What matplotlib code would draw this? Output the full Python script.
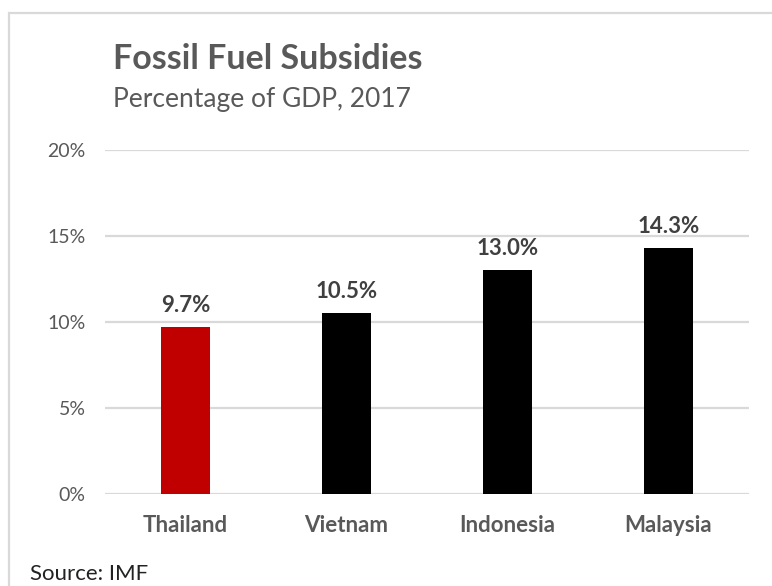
import matplotlib
matplotlib.use("Agg")
import matplotlib.pyplot as plt
from matplotlib.patches import Rectangle

countries = ["Thailand", "Vietnam", "Indonesia", "Malaysia"]
subsidies = [9.7, 10.5, 13.0, 14.3]
bar_colors = ["#C00000", "#000000", "#000000", "#000000"]
y_ticks = [0, 5, 10, 15, 20]
y_tick_labels = ["0%", "5%", "10%", "15%", "20%"]

W, H = 772, 586
fig = plt.figure(figsize=(W / 100, H / 100), dpi=100)
fig.patch.set_facecolor("white")

font = ["Lato", "DejaVu Sans"]
gray = "#595959"

# Light frame around the chart area (runs off the right and bottom edges)
frame = Rectangle((9 / W, -0.1), 1.2, 1.1 - 13 / H, transform=fig.transFigure,
                  fill=False, edgecolor="#d9d9d9", linewidth=1.6, zorder=0)
fig.patches.append(frame)

ax = fig.add_axes([105 / W, 1 - 494 / H, (749 - 105) / W, (494 - 150) / H])
x = range(len(countries))
ax.bar(x, subsidies, width=0.31, color=bar_colors, zorder=3)
ax.set_xlim(-0.5, len(countries) - 0.5)
ax.set_ylim(0, 20)
ax.set_yticks(y_ticks)
ax.set_yticklabels(y_tick_labels, family=font, fontsize=14, color=gray)
ax.set_xticks(list(x))
ax.set_xticklabels(countries, family=font, fontsize=16, color=gray, fontweight="bold")
ax.tick_params(axis="both", length=0)
ax.tick_params(axis="y", pad=14)
ax.tick_params(axis="x", pad=15)
ax.grid(axis="y", color="#d9d9d9", linewidth=1.6, zorder=0)
for s in ax.spines.values():
    s.set_visible(False)

for xi, v in zip(x, subsidies):
    ax.annotate(f"{v:.1f}%", (xi, v), xytext=(0, 8), textcoords="offset points",
                ha="center", va="bottom", family=font, fontsize=16,
                fontweight="bold", color="#404040")

fig.text(113 / W, 1 - 59 / H, "Fossil Fuel Subsidies", family=font, fontsize=24.5,
         fontweight="bold", color=gray, ha="left", va="center")
fig.text(113 / W, 1 - 100 / H, "Percentage of GDP, 2017", family=font, fontsize=19,
         color=gray, ha="left", va="center")
fig.text(30 / W, 1 - 574 / H, "Source: IMF", family=font, fontsize=16,
         color="#222222", ha="left", va="center")

fig.savefig("out.png", dpi=100, facecolor="white")
